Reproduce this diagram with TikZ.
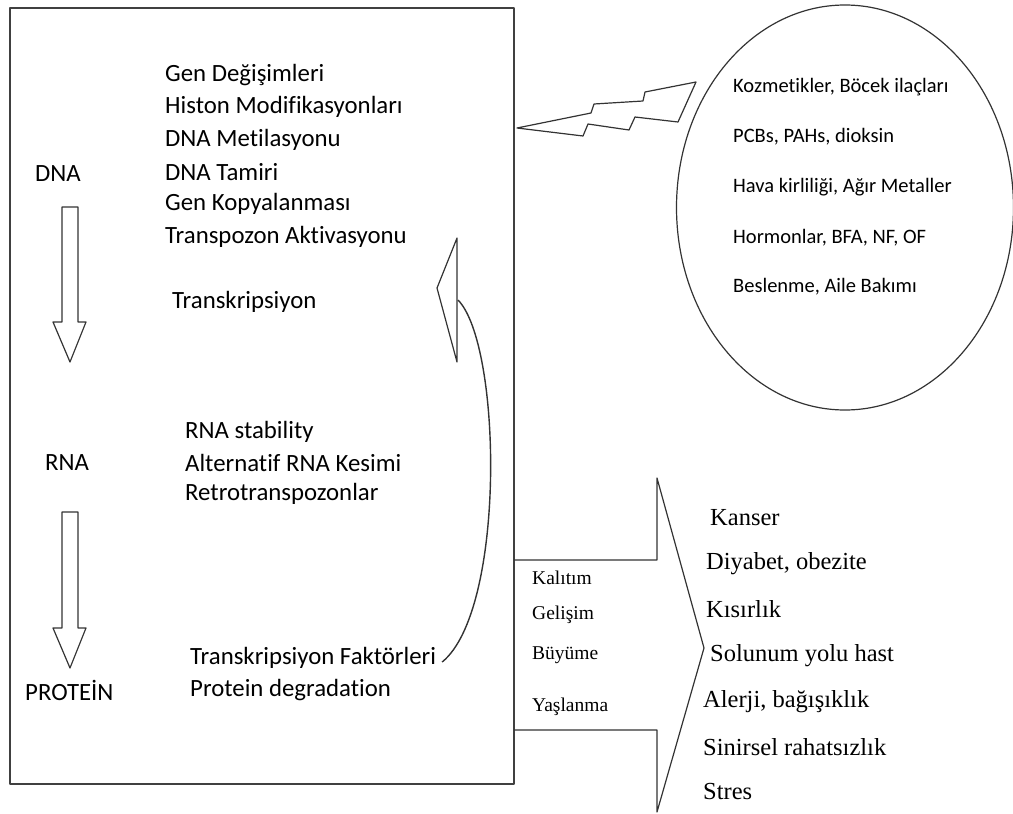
\documentclass[tikz,border=0pt]{standalone}
\usepackage{fontspec}
\setmainfont[Ligatures=NoCommon]{Carlito}
\newfontfamily\timesfont{Liberation Serif}
\usetikzlibrary{calc, shapes.geometric}

\begin{document}
\begin{tikzpicture}[x=1pt, y=-1pt, line join=round]
        \tikzset{
            lbl/.style={anchor=west, inner sep=0pt, font=\fontsize{24.8}{28}\selectfont},
            envtxt/.style={anchor=west, inner sep=0pt, font=\fontsize{20.5}{24}\selectfont},
            dis/.style={anchor=west, inner sep=0pt, font=\timesfont\fontsize{24.5}{28}\selectfont},
            eff/.style={anchor=west, inner sep=0pt, font=\timesfont\fontsize{19.5}{23}\selectfont},
            outline/.style={draw=black!80, line width=1.2pt}
        }
        \useasboundingbox (0,0) rectangle (1013,814);

        % main box
        \draw[line width=1.8pt, black!75] (10,8) rectangle (514,784);

        \node[lbl](DNA) at (35,174){DNA};
        \node[lbl](RNA) at (45,463){RNA};
        \node[lbl](PRO) at (25,690){PROTEİN};

        \node[lbl](gen1) at (165,75){Gen Değişimleri};
        \node[lbl](gen2) at (165,107){Histon Modifikasyonları};
        \node[lbl](gen3) at (165,140){DNA Metilasyonu};
        \node[lbl](gen4) at (165,172){DNA Tamiri};
        \node[lbl](gen5) at (165,204){Gen Kopyalanması};
        \node[lbl](gen6) at (165,237){Transpozon Aktivasyonu};
        \node[lbl](trs) at (172,302){Transkripsiyon};

        \node[lbl](rna1) at (185,432){RNA stability};
        \node[lbl](rna2) at (185,463){Alternatif RNA Kesimi};
        \node[lbl](rna3) at (185,494){Retrotranspozonlar};

        \node[lbl](tf) at (190,658){Transkripsiyon Faktörleri};
        \node[lbl](pdeg) at (190,690){Protein degradation};

        % down arrows
        \foreach \t/\b in {207/322, 512/628}
            \draw[outline] (62,\t) -- (78,\t) -- (78,\b) -- (86,\b) -- (70,\b+40) -- (53,\b) -- (62,\b) -- cycle;

        % curved arrow back to DNA
        \draw[outline] (457,238) -- (437,288) -- (457,362) -- cycle;
        \coordinate (fbhead) at (458,300);
        \coordinate (fbtail) at ($(tf.east)+(6,4)$);
        \draw[outline, line width=1.4pt] (fbhead) .. controls (502,345) and (506,610) .. (fbtail);

        % environment
        \node[draw=black!80, line width=1.2pt, ellipse, minimum width=337, minimum height=405, inner sep=0pt](env) at (845,207.5){};
        \node[envtxt](env1) at (733,87){Kozmetikler, Böcek ilaçları};
        \node[envtxt](env2) at (733,137){PCBs, PAHs, dioksin};
        \node[envtxt](env3) at (733,187){Hava kirliliği, Ağır Metaller};
        \node[envtxt](env4) at (733,238){Hormonlar, BFA, NF, OF};
        \node[envtxt](env5) at (733,287){Beslenme, Aile Bakımı};

        % lightning
        \draw[outline] (517,128) -- (591,113) -- (594,104) -- (643,101) -- (645,92) -- (696,82)
            -- (678,122) -- (635,117) -- (629,130) -- (588,124) -- (583,136) -- cycle;

        % outcome arrow
        \draw[outline] (514,560) -- (657,560) -- (657,478) -- (704,648) -- (657,812) -- (657,730) -- (514,730);
        \node[eff](e1) at (532,578){Kalıtım};
        \node[eff](e2) at (532,615){Gelişim};
        \node[eff](e3) at (532,655){Büyüme};
        \node[eff](e4) at (532,707){Yaşlanma};

        \node[dis](d1) at (710,518){Kanser};
        \node[dis](d2) at (706,564){Diyabet, obezite};
        \node[dis](d3) at (706,609){Kısırlık};
        \node[dis](d4) at (710,656){Solunum yolu hast};
        \node[dis](d5) at (703,702){Alerji, bağışıklık};
        \node[dis](d6) at (703,747){Sinirsel rahatsızlık};
        \node[dis](d7) at (703,792){Stres};

    \end{tikzpicture}
\end{document}
